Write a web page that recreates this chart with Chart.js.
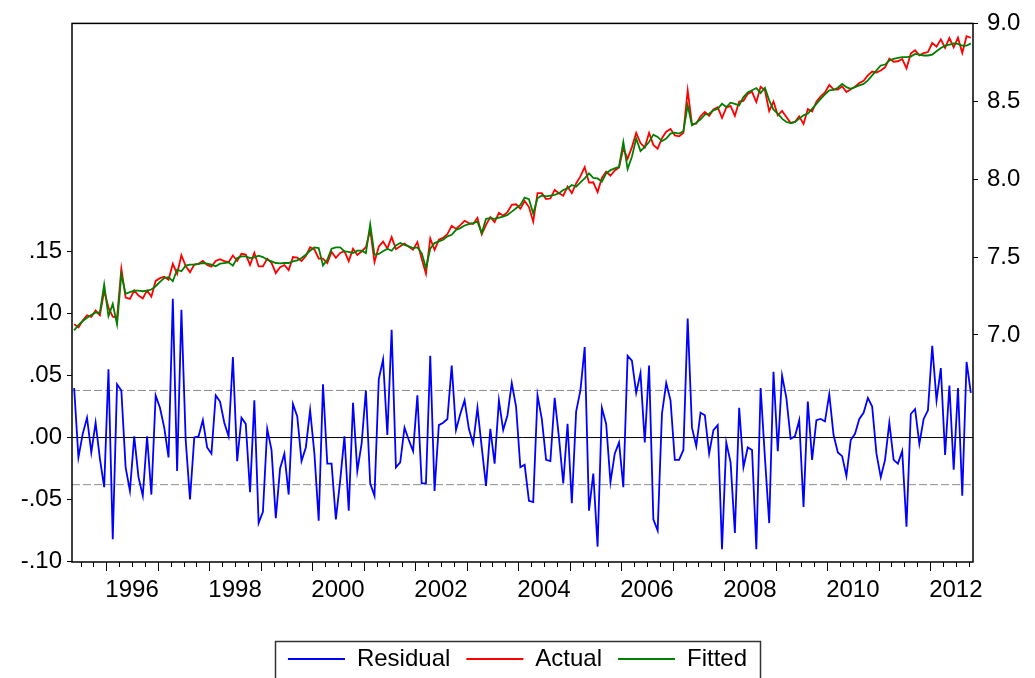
<!DOCTYPE html>
<html>
<head>
<meta charset="utf-8">
<script src="https://cdn.jsdelivr.net/npm/chart.js@4.4.1/dist/chart.umd.min.js"></script>
<style>
  html, body { margin: 0; padding: 0; background: #ffffff; }
  #wrap { width: 1035px; height: 678px; position: relative; }
</style>
</head>
<body>
<div id="wrap"><canvas id="chart" width="1035" height="678"></canvas></div>
<script>
// Monthly sample: 1995M05 .. 2012M10 (210 observations)
const startYear = 1995;
const startMonth = 5;

// Regression residuals (left axis)
const residual = [
  0.040, -0.016, 0.003, 0.016, -0.012, 0.012, -0.017, -0.040, 0.055, -0.082, 0.043, 0.038,
  -0.024, -0.043, 0.001, -0.032, -0.047, 0.001, -0.046, 0.034, 0.024, 0.008, -0.016, 0.112,
  -0.027, 0.103, -0.002, -0.050, 0.000, 0.001, 0.014, -0.008, -0.013, 0.034, 0.029, 0.012,
  0.001, 0.065, -0.019, 0.016, 0.011, -0.044, 0.030, -0.069, -0.060, 0.007, -0.010, -0.065,
  -0.025, -0.013, -0.046, 0.027, 0.017, -0.019, -0.008, 0.022, -0.013, -0.067, 0.043, -0.021,
  -0.021, -0.066, -0.035, 0.001, -0.059, 0.028, -0.027, -0.005, 0.038, -0.037, -0.047, 0.047,
  0.063, 0.002, 0.087, -0.024, -0.020, 0.008, -0.002, -0.011, 0.034, -0.037, -0.037, 0.066,
  -0.043, 0.010, 0.012, 0.015, 0.058, 0.006, 0.019, 0.030, 0.007, -0.005, 0.024, -0.008,
  -0.039, 0.007, -0.021, 0.030, 0.006, 0.018, 0.044, 0.025, -0.024, -0.022, -0.051, -0.052,
  0.034, 0.015, -0.018, -0.019, 0.032, 0.000, -0.037, 0.011, -0.053, 0.021, 0.038, 0.073,
  -0.059, -0.029, -0.088, 0.024, 0.011, -0.036, -0.013, -0.004, -0.040, 0.066, 0.062, 0.036,
  0.052, -0.004, 0.058, -0.066, -0.075, 0.019, 0.044, 0.030, -0.018, -0.018, -0.010, 0.096,
  0.008, -0.007, 0.020, 0.018, -0.013, 0.006, 0.010, -0.090, -0.004, -0.020, -0.077, 0.024,
  -0.024, -0.008, -0.010, -0.090, 0.040, -0.016, -0.069, 0.053, -0.011, 0.050, 0.032, -0.001,
  0.001, 0.014, -0.056, 0.029, -0.018, 0.014, 0.015, 0.013, 0.035, 0.002, -0.012, -0.015,
  -0.031, -0.002, 0.003, 0.015, 0.020, 0.032, 0.025, -0.013, -0.032, -0.018, 0.012, -0.018,
  -0.021, -0.011, -0.072, 0.019, 0.023, -0.005, 0.015, 0.022, 0.074, 0.030, 0.056, -0.014,
  0.042, -0.026, 0.040, -0.047, 0.061, 0.036
];

// Observed series (right axis)
const actual = [
  7.070, 7.048, 7.093, 7.127, 7.116, 7.157, 7.126, 7.284, 7.176, 7.118, 7.111, 7.426,
  7.240, 7.232, 7.286, 7.253, 7.234, 7.286, 7.246, 7.347, 7.365, 7.374, 7.355, 7.457,
  7.393, 7.512, 7.443, 7.402, 7.452, 7.457, 7.476, 7.450, 7.439, 7.475, 7.487, 7.474,
  7.467, 7.510, 7.475, 7.521, 7.516, 7.450, 7.528, 7.440, 7.440, 7.490, 7.463, 7.397,
  7.435, 7.449, 7.416, 7.500, 7.496, 7.475, 7.507, 7.563, 7.549, 7.491, 7.490, 7.462,
  7.533, 7.496, 7.527, 7.538, 7.474, 7.554, 7.514, 7.536, 7.564, 7.674, 7.468, 7.567,
  7.600, 7.556, 7.628, 7.551, 7.570, 7.587, 7.567, 7.547, 7.596, 7.489, 7.393, 7.620,
  7.547, 7.611, 7.623, 7.648, 7.701, 7.681, 7.705, 7.733, 7.718, 7.713, 7.752, 7.646,
  7.707, 7.757, 7.725, 7.784, 7.766, 7.789, 7.836, 7.839, 7.811, 7.860, 7.821, 7.728,
  7.911, 7.910, 7.872, 7.876, 7.931, 7.910, 7.894, 7.952, 7.910, 7.973, 8.018, 8.078,
  7.978, 7.980, 7.917, 8.008, 8.048, 8.022, 8.056, 8.076, 8.199, 8.131, 8.206, 8.297,
  8.232, 8.203, 8.297, 8.220, 8.196, 8.263, 8.305, 8.323, 8.281, 8.275, 8.298, 8.570,
  8.354, 8.356, 8.404, 8.432, 8.407, 8.448, 8.462, 8.394, 8.459, 8.471, 8.407, 8.498,
  8.503, 8.548, 8.561, 8.495, 8.593, 8.571, 8.437, 8.499, 8.410, 8.439, 8.399, 8.360,
  8.368, 8.403, 8.354, 8.450, 8.434, 8.498, 8.531, 8.557, 8.605, 8.576, 8.575, 8.597,
  8.560, 8.578, 8.594, 8.617, 8.632, 8.666, 8.691, 8.685, 8.698, 8.718, 8.774, 8.754,
  8.757, 8.772, 8.711, 8.806, 8.827, 8.795, 8.809, 8.816, 8.874, 8.851, 8.898, 8.843,
  8.906, 8.846, 8.908, 8.810, 8.918, 8.908
];

// Fitted values of the regression (right axis)
const fitted = [
  7.030, 7.064, 7.090, 7.111, 7.128, 7.145, 7.143, 7.324, 7.121, 7.200, 7.068, 7.388,
  7.264, 7.275, 7.285, 7.285, 7.281, 7.285, 7.292, 7.313, 7.341, 7.366, 7.371, 7.345,
  7.420, 7.409, 7.445, 7.452, 7.452, 7.456, 7.462, 7.458, 7.452, 7.441, 7.458, 7.462,
  7.466, 7.445, 7.494, 7.505, 7.505, 7.494, 7.498, 7.509, 7.500, 7.483, 7.473, 7.462,
  7.460, 7.462, 7.462, 7.473, 7.479, 7.494, 7.515, 7.541, 7.562, 7.558, 7.447, 7.483,
  7.554, 7.562, 7.562, 7.537, 7.533, 7.526, 7.541, 7.541, 7.526, 7.711, 7.515, 7.520,
  7.537, 7.554, 7.541, 7.575, 7.590, 7.579, 7.569, 7.558, 7.562, 7.526, 7.430, 7.554,
  7.590, 7.601, 7.611, 7.633, 7.643, 7.675, 7.686, 7.703, 7.711, 7.718, 7.728, 7.654,
  7.746, 7.750, 7.746, 7.754, 7.760, 7.771, 7.792, 7.814, 7.835, 7.882, 7.872, 7.780,
  7.877, 7.895, 7.890, 7.895, 7.899, 7.910, 7.931, 7.941, 7.963, 7.952, 7.980, 8.005,
  8.037, 8.009, 8.005, 7.984, 8.037, 8.058, 8.069, 8.080, 8.239, 8.065, 8.144, 8.261,
  8.180, 8.207, 8.239, 8.286, 8.271, 8.244, 8.261, 8.293, 8.299, 8.293, 8.308, 8.474,
  8.346, 8.363, 8.384, 8.414, 8.420, 8.442, 8.452, 8.484, 8.463, 8.491, 8.484, 8.474,
  8.527, 8.556, 8.571, 8.585, 8.553, 8.587, 8.506, 8.446, 8.421, 8.389, 8.367, 8.361,
  8.367, 8.389, 8.410, 8.421, 8.452, 8.484, 8.516, 8.544, 8.570, 8.574, 8.587, 8.612,
  8.591, 8.580, 8.591, 8.602, 8.612, 8.634, 8.666, 8.698, 8.730, 8.736, 8.762, 8.772,
  8.778, 8.783, 8.783, 8.787, 8.804, 8.800, 8.794, 8.794, 8.800, 8.821, 8.842, 8.857,
  8.864, 8.872, 8.868, 8.857, 8.857, 8.872
];

// Standard error of the regression (dashed band around zero)
const regressionSE = 0.038;

// Axis tick labels
const yearLabels = ['1996', '1998', '2000', '2002', '2004', '2006', '2008', '2010', '2012'];
const residualTicks = [-0.10, -0.05, 0.00, 0.05, 0.10, 0.15];
const levelTicks = [7.0, 7.5, 8.0, 8.5, 9.0];

// ---- time positions: each month occupies 1/12 of a year, points sit mid-month ----
const xMin = startYear + (startMonth - 1) / 12;
const xMax = xMin + residual.length / 12;
const xPos = residual.map((_, i) => xMin + (i + 0.5) / 12);
const toPoints = arr => arr.map((v, i) => ({ x: xPos[i], y: v }));
const flatLine = v => [{ x: xMin, y: v }, { x: xMax, y: v }];

const FONT = '"Liberation Sans", Arial, Helvetica, sans-serif';
const FONT_SIZE = 24;

// Frame, date tick marks and legend box
const framePlugin = {
  id: 'framePlugin',
  afterDraw(chart) {
    const { ctx, chartArea: a, scales } = chart;
    const x = scales.x;
    ctx.save();
    ctx.strokeStyle = '#000000';
    ctx.lineWidth = 1.5;
    ctx.strokeRect(a.left, a.top, a.right - a.left, a.bottom - a.top);

    // quarterly minor ticks, yearly major ticks below the date axis
    ctx.lineWidth = 1;
    ctx.beginPath();
    const firstQ = Math.ceil(x.min * 4 - 1e-9) / 4;
    for (let q = firstQ; q <= x.max + 1e-9; q += 0.25) {
      const major = Math.abs(q - Math.round(q)) < 1e-6;
      const px = Math.round(x.getPixelForValue(q)) + 0.5;
      ctx.moveTo(px, a.bottom);
      ctx.lineTo(px, a.bottom + (major ? 9 : 5));
    }
    ctx.stroke();

    // border around the legend entries
    const boxes = chart.legend && chart.legend.legendHitBoxes;
    if (boxes && boxes.length) {
      const left = Math.min(...boxes.map(b => b.left)) - 13;
      const right = Math.max(...boxes.map(b => b.left + b.width)) + 13;
      ctx.strokeStyle = '#333333';
      ctx.lineWidth = 1.5;
      ctx.strokeRect(Math.round(left) + 0.5, 641.5, Math.round(right - left), 60);
    }
    ctx.restore();
  }
};

new Chart(document.getElementById('chart'), {
  type: 'line',
  data: {
    datasets: [
      { label: 'Residual', data: toPoints(residual), yAxisID: 'yRes',
        borderColor: '#0000ff', backgroundColor: '#0000ff', borderWidth: 1.8,
        pointRadius: 0, tension: 0, order: 2 },
      { label: 'Actual', data: toPoints(actual), yAxisID: 'yLev',
        borderColor: '#ff0000', backgroundColor: '#ff0000', borderWidth: 1.8,
        pointRadius: 0, tension: 0, order: 1 },
      { label: 'Fitted', data: toPoints(fitted), yAxisID: 'yLev',
        borderColor: '#008000', backgroundColor: '#008000', borderWidth: 1.8,
        pointRadius: 0, tension: 0, order: 0 },
      { label: 'zero', data: flatLine(0), yAxisID: 'yRes',
        borderColor: '#000000', borderWidth: 1, pointRadius: 0, order: 3 },
      { label: '+SE', data: flatLine(regressionSE), yAxisID: 'yRes',
        borderColor: '#8c8c8c', borderWidth: 1, borderDash: [8, 3], pointRadius: 0, order: 4 },
      { label: '-SE', data: flatLine(-regressionSE), yAxisID: 'yRes',
        borderColor: '#8c8c8c', borderWidth: 1, borderDash: [8, 3], pointRadius: 0, order: 4 }
    ]
  },
  options: {
    responsive: false,
    devicePixelRatio: 1,
    animation: false,
    events: [],
    layout: { padding: { top: 21, left: 0, right: 0, bottom: -3 } },
    scales: {
      x: {
        type: 'linear',
        position: 'bottom',
        min: xMin,
        max: xMax,
        grid: { display: false, drawTicks: false },
        border: { display: false },
        afterBuildTicks: scale => { scale.ticks = yearLabels.map(y => ({ value: Number(y) + 0.5 })); },
        afterFit: scale => { scale.height = 69; },
        ticks: {
          autoSkip: false, maxRotation: 0, minRotation: 0, padding: 14,
          color: '#000000', font: { family: FONT, size: FONT_SIZE },
          callback: (v, i) => yearLabels[i]
        }
      },
      yRes: {
        type: 'linear',
        position: 'left',
        min: -0.1004,
        max: 0.3341,
        grid: { drawOnChartArea: false, drawTicks: true, tickLength: 5, color: '#000000' },
        border: { display: false },
        afterBuildTicks: scale => { scale.ticks = residualTicks.map(v => ({ value: v })); },
        afterFit: scale => { scale.width = 72; },
        ticks: {
          padding: 5, color: '#000000', font: { family: FONT, size: FONT_SIZE },
          callback: v => (v < -1e-9 ? '-' : '') + Math.abs(v).toFixed(2).replace(/^0/, '')
        }
      },
      yLev: {
        type: 'linear',
        position: 'right',
        min: 5.543,
        max: 9.0,
        grid: { drawOnChartArea: false, drawTicks: true, tickLength: 5, color: '#000000' },
        border: { display: false },
        afterBuildTicks: scale => { scale.ticks = levelTicks.map(v => ({ value: v })); },
        afterFit: scale => { scale.width = 62; },
        ticks: {
          padding: 9, color: '#000000', font: { family: FONT, size: FONT_SIZE },
          callback: v => v.toFixed(1)
        }
      }
    },
    plugins: {
      tooltip: { enabled: false },
      legend: {
        position: 'bottom',
        align: 'center',
        labels: {
          filter: item => item.datasetIndex < 3,
          sort: (a, b) => a.datasetIndex - b.datasetIndex,
          usePointStyle: true,
          pointStyle: 'line',
          pointStyleWidth: 57,
          padding: 16,
          color: '#000000',
          font: { family: FONT, size: FONT_SIZE }
        }
      }
    }
  },
  plugins: [framePlugin]
});
</script>
</body>
</html>
